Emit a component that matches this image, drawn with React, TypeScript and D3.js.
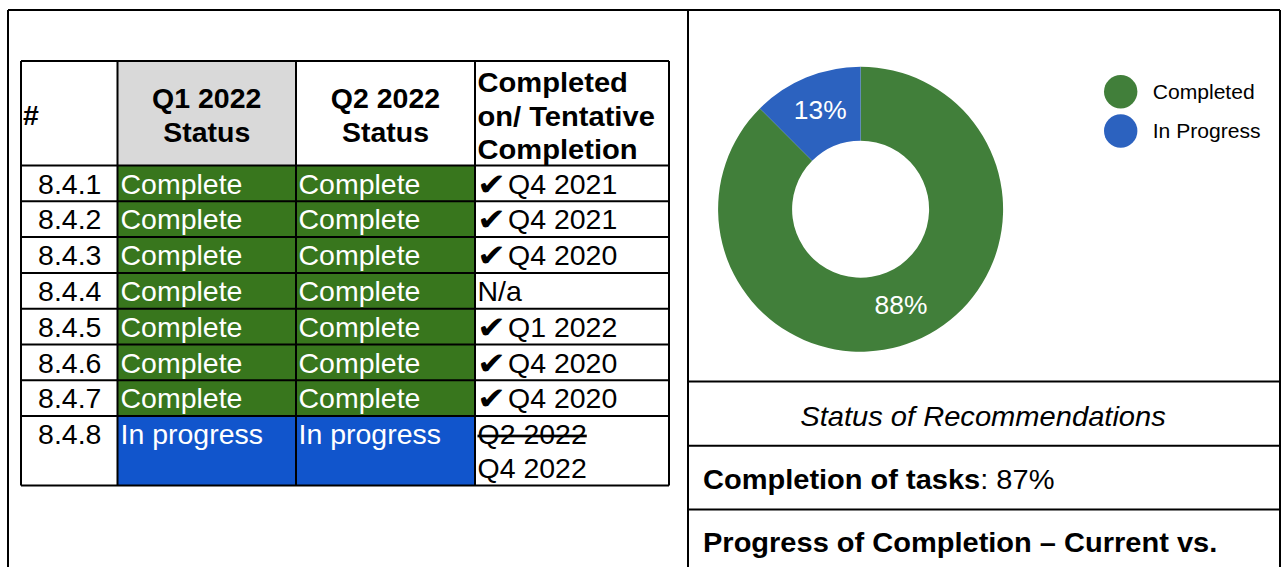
import React, { useEffect } from "react";
import * as d3 from "d3";

// ---------- data ----------
const headers = ["#", "Q1 2022\nStatus", "Q2 2022\nStatus", "Completed\non/ Tentative\nCompletion"];
const ids = ["8.4.1", "8.4.2", "8.4.3", "8.4.4", "8.4.5", "8.4.6", "8.4.7", "8.4.8"];
const q1Status = ["Complete", "Complete", "Complete", "Complete", "Complete", "Complete", "Complete", "In progress"];
const q2Status = ["Complete", "Complete", "Complete", "Complete", "Complete", "Complete", "Complete", "In progress"];
const completionDone = [true, true, true, false, true, true, true, false];
const completionText = ["Q4 2021", "Q4 2021", "Q4 2020", "N/a", "Q1 2022", "Q4 2020", "Q4 2020", "Q4 2022"];
const completionStruck = ["", "", "", "", "", "", "", "Q2 2022"];

const donutLabels = ["Completed", "In Progress"];
const donutValues = [7, 1];

const panelTitle = "Status of Recommendations";
const completionLabel = "Completion of tasks";
const completionValue = ": 87%";
const progressLabel = "Progress of Completion \u2013 Current vs.";

// ---------- styling ----------
const FONT = "'Liberation Sans', Arial, Helvetica, sans-serif";
const CELL_GREEN = "#38761d";
const CELL_BLUE = "#1155cc";
const HEADER_GRAY = "#d9d9d9";
const DONUT_COLORS = ["#417f3a", "#2c62bf"];
const SX = 1.055;

export default function App() {
  useEffect(() => {
    document.body.style.margin = "0";
  }, []);

  const W = 1284;
  const H = 567;

  // table geometry
  const colEdges = [21, 117.5, 296, 475, 669];
  const headerTop = 61;
  const headerBottom = 165.5;
  const rowH = 35.8;
  const lineCounts = ids.map((_, i) => (completionStruck[i] ? 2 : 1));
  const lineH = 33.5;
  const rowTops: number[] = [];
  let acc = headerBottom;
  lineCounts.forEach((c) => {
    rowTops.push(acc);
    acc += c === 1 ? rowH : rowH + lineH;
  });
  const tableBottom = acc;

  const colX = d3.scaleOrdinal<number, number>().domain([0, 1, 2, 3]).range(colEdges.slice(0, 4));

  const statusFill = (s: string) => (s === "Complete" ? CELL_GREEN : CELL_BLUE);

  // donut
  const cx = 860.6;
  const cy = 209.2;
  const rOuter = 142.5;
  const rInner = 68.5;
  const pie = d3.pie<number>().sort(null).value((d) => d);
  const arcs = pie(donutValues);
  const arc = d3.arc<d3.PieArcDatum<number>>().innerRadius(rInner).outerRadius(rOuter);
  const total = d3.sum(donutValues);
  const pct = d3.format(".0%");
  const legendY = d3.scalePoint<string>().domain(donutLabels).range([91.7, 131]);

  const T = (x: number, y: number, sx = SX) => `translate(${x},${y}) scale(${sx},1)`;

  return (
    <svg width={W} height={H} style={{ display: "block", background: "#fff" }} fontFamily={FONT}>
      {/* header cells */}
      <rect x={colEdges[1]} y={headerTop} width={colEdges[2] - colEdges[1]} height={headerBottom - headerTop} fill={HEADER_GRAY} />
      {/* body cell fills */}
      {ids.map((_, i) => {
        const h = (i + 1 < rowTops.length ? rowTops[i + 1] : tableBottom) - rowTops[i];
        return (
          <g key={"f" + i}>
            <rect x={colEdges[1]} y={rowTops[i]} width={colEdges[2] - colEdges[1]} height={h} fill={statusFill(q1Status[i])} />
            <rect x={colEdges[2]} y={rowTops[i]} width={colEdges[3] - colEdges[2]} height={h} fill={statusFill(q2Status[i])} />
          </g>
        );
      })}

      {/* header text */}
      <text transform={T(23, 125)} fontSize={27} fontWeight="bold">{headers[0]}</text>
      {[1, 2].map((c) => {
        const mid = (colEdges[c] + colEdges[c + 1]) / 2;
        return headers[c].split("\n").map((ln, k) => (
          <text key={c + "-" + k} transform={T(mid, 108.3 + k * 33.4)} textAnchor="middle" fontSize={27} fontWeight="bold">
            {ln}
          </text>
        ));
      })}
      {headers[3].split("\n").map((ln, k) => (
        <text key={"h3" + k} transform={T(colX(3) + 2.5, 92 + k * 33.5, 1.04)} fontSize={28} fontWeight="bold">
          {ln}
        </text>
      ))}

      {/* body text */}
      {ids.map((id, i) => {
        const base = rowTops[i] + 28;
        return (
          <g key={"t" + i}>
            <text transform={T((colEdges[0] + colEdges[1]) / 2 + 0.5, base)} textAnchor="middle" fontSize={27} fill="#000">
              {id}
            </text>
            <text transform={T(colX(1) + 3, base)} fontSize={27} fill="#fff">{q1Status[i]}</text>
            <text transform={T(colX(2) + 2.5, base)} fontSize={27} fill="#fff">{q2Status[i]}</text>
            {completionDone[i] && (
              <text transform={`translate(${colX(3) + 2},${base + 1}) scale(1.12,1)`} fontSize={31} fontFamily="'DejaVu Sans', sans-serif" fill="#000">
                {"\u2714"}
              </text>
            )}
            {completionStruck[i] ? (
              <>
                <text transform={T(colX(3) + 2.5, base)} fontSize={27} fill="#000" style={{ textDecoration: "line-through" }}>
                  {completionStruck[i]}
                </text>
                <text transform={T(colX(3) + 2.5, base + lineH)} fontSize={27} fill="#000">{completionText[i]}</text>
              </>
            ) : (
              <text transform={T(colX(3) + (completionDone[i] ? 33 : 2.5), base)} fontSize={27} fill="#000">
                {completionText[i]}
              </text>
            )}
          </g>
        );
      })}

      {/* table grid */}
      <g stroke="#000" strokeWidth={2} fill="none">
        <line x1={colEdges[0]} x2={colEdges[4]} y1={headerTop} y2={headerTop} />
        <line x1={colEdges[0]} x2={colEdges[4]} y1={headerBottom} y2={headerBottom} />
        {rowTops.slice(1).map((y, i) => (
          <line key={"r" + i} x1={colEdges[0]} x2={colEdges[4]} y1={y} y2={y} />
        ))}
        <line x1={colEdges[0]} x2={colEdges[4]} y1={tableBottom} y2={tableBottom} />
        {colEdges.map((x, i) => (
          <line key={"c" + i} x1={x} x2={x} y1={headerTop} y2={tableBottom} />
        ))}
      </g>

      {/* outer frame */}
      <g stroke="#000" strokeWidth={2} fill="none">
        <line x1={8} x2={1280} y1={10} y2={10} />
        <line x1={8} x2={8} y1={10} y2={H} />
        <line x1={688} x2={688} y1={10} y2={H} />
        <line x1={1280} x2={1280} y1={10} y2={H} />
        <line x1={688} x2={1280} y1={381.5} y2={381.5} />
        <line x1={688} x2={1280} y1={445.7} y2={445.7} />
        <line x1={688} x2={1280} y1={509.5} y2={509.5} />
      </g>

      {/* donut */}
      <g transform={`translate(${cx},${cy})`}>
        {arcs.map((a, i) => (
          <path key={"a" + i} d={arc(a) || ""} fill={DONUT_COLORS[i]} />
        ))}
        {arcs.map((a, i) => {
          const [lx, ly] = arc.centroid(a);
          return (
            <text key={"l" + i} transform={T(lx, ly + 7.5)} textAnchor="middle" fontSize={25} fill="#fff">
              {pct(a.data / total)}
            </text>
          );
        })}
      </g>

      {/* legend */}
      {donutLabels.map((lab, i) => (
        <g key={"lg" + i}>
          <circle cx={1120.7} cy={legendY(lab)} r={16.7} fill={DONUT_COLORS[i]} />
          <text transform={T(1152.7, (legendY(lab) as number) + 7.3)} fontSize={20} fill="#000">
            {lab}
          </text>
        </g>
      ))}

      {/* right panel text */}
      <text transform={T(983, 425.5, 1.04)} textAnchor="middle" fontSize={28} fontStyle="italic" fill="#000">
        {panelTitle}
      </text>
      <text transform={T(703, 488.5, 1.075)} fontSize={27} fill="#000">
        <tspan fontWeight="bold">{completionLabel}</tspan>
        <tspan>{completionValue}</tspan>
      </text>
      <text transform={T(703, 552, 1.075)} fontSize={27} fontWeight="bold" fill="#000">
        {progressLabel}
      </text>
    </svg>
  );
}
